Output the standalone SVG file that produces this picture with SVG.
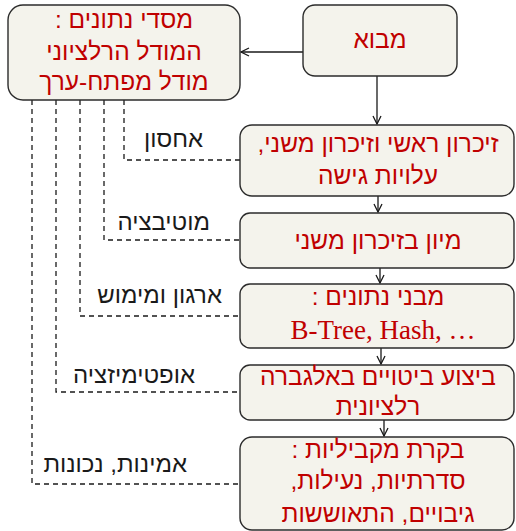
<svg xmlns="http://www.w3.org/2000/svg" width="516" height="531" viewBox="0 0 516 531">
<defs>
<style>
.box{fill:#f4f3ec;stroke:#2b2b2b;stroke-width:1.4}
.t{font-family:"Liberation Sans","DejaVu Sans",sans-serif;font-size:24.5px;fill:#c00000;text-anchor:middle;direction:rtl;unicode-bidi:embed}
.s{font-family:"Liberation Serif","DejaVu Serif",serif;font-size:27px;fill:#c00000;text-anchor:middle}
.l{font-family:"Liberation Sans","DejaVu Sans",sans-serif;font-size:24px;fill:#1a1a1a;text-anchor:start;direction:rtl;unicode-bidi:embed}
.a{fill:none;stroke:#1a1a1a;stroke-width:1.3}
.d{fill:none;stroke:#1a1a1a;stroke-width:1.3;stroke-dasharray:5,4}
</style>
<marker id="ah" viewBox="0 0 10 10" refX="9" refY="5" markerWidth="10" markerHeight="10" markerUnits="userSpaceOnUse" orient="auto">
<path d="M1,1 L9,5 L1,9" fill="none" stroke="#1a1a1a" stroke-width="1.3"/>
</marker>
</defs>
<rect width="516" height="531" fill="#ffffff"/>
<g id="connectors">
<line class="a" x1="303" y1="52" x2="241" y2="52" marker-end="url(#ah)"/>
<line class="a" x1="377" y1="76" x2="377" y2="124" marker-end="url(#ah)"/>
<line class="a" x1="378" y1="196" x2="378" y2="212" marker-end="url(#ah)"/>
<line class="a" x1="380" y1="268" x2="380" y2="283" marker-end="url(#ah)"/>
<line class="a" x1="381" y1="348" x2="381" y2="364" marker-end="url(#ah)"/>
<line class="a" x1="384" y1="420" x2="384" y2="436" marker-end="url(#ah)"/>
<path class="d" d="M124,100 V160 H240"/>
<path class="d" d="M104,100 V240 H240"/>
<path class="d" d="M80,100 V316 H240"/>
<path class="d" d="M56,100 V392 H240"/>
<path class="d" d="M32,100 V484 H240"/>
<text class="l" x="203" y="147">אחסון</text>
<text class="l" x="210" y="230">מוטיבציה</text>
<text class="l" x="222" y="303">ארגון ומימוש</text>
<text class="l" x="195" y="383">אופטימיזציה</text>
<text class="l" x="187" y="472">אמינות, נכונות</text>
</g>
<g id="n-models">
<rect class="box" x="8" y="5" width="232" height="95" rx="15"/>
<text class="t" x="124" y="28">מסדי נתונים :</text>
<text class="t" x="124" y="60">המודל הרלציוני</text>
<text class="t" x="124" y="90">מודל מפתח-ערך</text>
</g>
<g id="n-intro">
<rect class="box" x="303" y="5" width="154" height="71" rx="12"/>
<text class="t" x="380" y="48">מבוא</text>
</g>
<g id="n-memory">
<rect class="box" x="240" y="125" width="274" height="71" rx="12"/>
<text class="t" x="378" y="152">זיכרון ראשי וזיכרון משני,</text>
<text class="t" x="378" y="184">עלויות גישה</text>
</g>
<g id="n-sort">
<rect class="box" x="240" y="213" width="274" height="55" rx="10"/>
<text class="t" x="378" y="249">מיון בזיכרון משני</text>
</g>
<g id="n-structures">
<rect class="box" x="240" y="284" width="274" height="64" rx="10"/>
<text class="t" x="378" y="305">מבני נתונים :</text>
<text class="s" x="383" y="339">B-Tree, Hash, …</text>
</g>
<g id="n-algebra">
<rect class="box" x="240" y="365" width="274" height="55" rx="10"/>
<text class="t" x="378" y="385">ביצוע ביטויים באלגברה</text>
<text class="t" x="378" y="415">רלציונית</text>
</g>
<g id="n-concurrency">
<rect class="box" x="240" y="437" width="274" height="93" rx="12"/>
<text class="t" x="378" y="458">בקרת מקביליות :</text>
<text class="t" x="378" y="489">סדרתיות, נעילות,</text>
<text class="t" x="378" y="522">גיבויים, התאוששות</text>
</g>
</svg>
